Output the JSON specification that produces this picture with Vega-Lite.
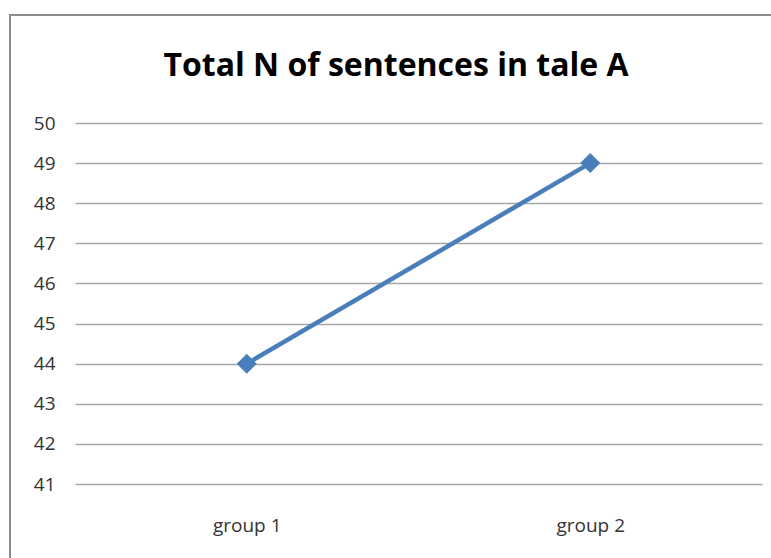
{
  "$schema": "https://vega.github.io/schema/vega-lite/v6.json",
  "width": 770,
  "height": 550,
  "padding": {"left": 10, "top": 15, "right": 0, "bottom": 0},
  "autosize": {"type": "none"},
  "background": "white",
  "title": {
    "text": "Total N of sentences in tale A",
    "font": "Open Sans",
    "fontSize": 32,
    "fontWeight": "bold",
    "color": "black",
    "anchor": "middle",
    "frame": "group",
    "baseline": "alphabetic",
    "offset": -93,
    "dx": 1
  },
  "config": {
    "view": {"stroke": "#8c8c8c", "strokeWidth": 2},
    "axis": {"labelFont": "Open Sans", "labelFontSize": 19, "labelColor": "#333333"}
  },
  "data": {
    "values": [
      {"group": "group 1", "value": 44},
      {"group": "group  2", "value": 49}
    ]
  },
  "encoding": {
    "x": {
      "field": "group",
      "type": "nominal",
      "sort": null,
      "title": null,
      "scale": {"type": "point", "range": [65, 752], "padding": 0.5},
      "axis": {
        "domain": false,
        "ticks": false,
        "tickSize": 0,
        "grid": false,
        "offset": -81,
        "labelPadding": 47,
        "labelBaseline": "alphabetic",
        "labelAngle": 0
      }
    },
    "y": {
      "field": "value",
      "type": "quantitative",
      "title": null,
      "scale": {"domain": [41, 50], "range": [469, 108], "nice": false, "zero": false},
      "axis": {
        "values": [41, 42, 43, 44, 45, 46, 47, 48, 49, 50],
        "domain": false,
        "ticks": false,
        "tickSize": 0,
        "grid": true,
        "gridColor": "#a6a6a6",
        "gridWidth": 1.5,
        "gridOpacity": 1,
        "offset": -65,
        "labelPadding": 20
      }
    }
  },
  "layer": [
    {"mark": {"type": "line", "color": "#4a7ebb", "strokeWidth": 4.5}},
    {"mark": {"type": "point", "shape": "diamond", "filled": true, "size": 400, "color": "#4a7ebb", "opacity": 1}}
  ]
}
